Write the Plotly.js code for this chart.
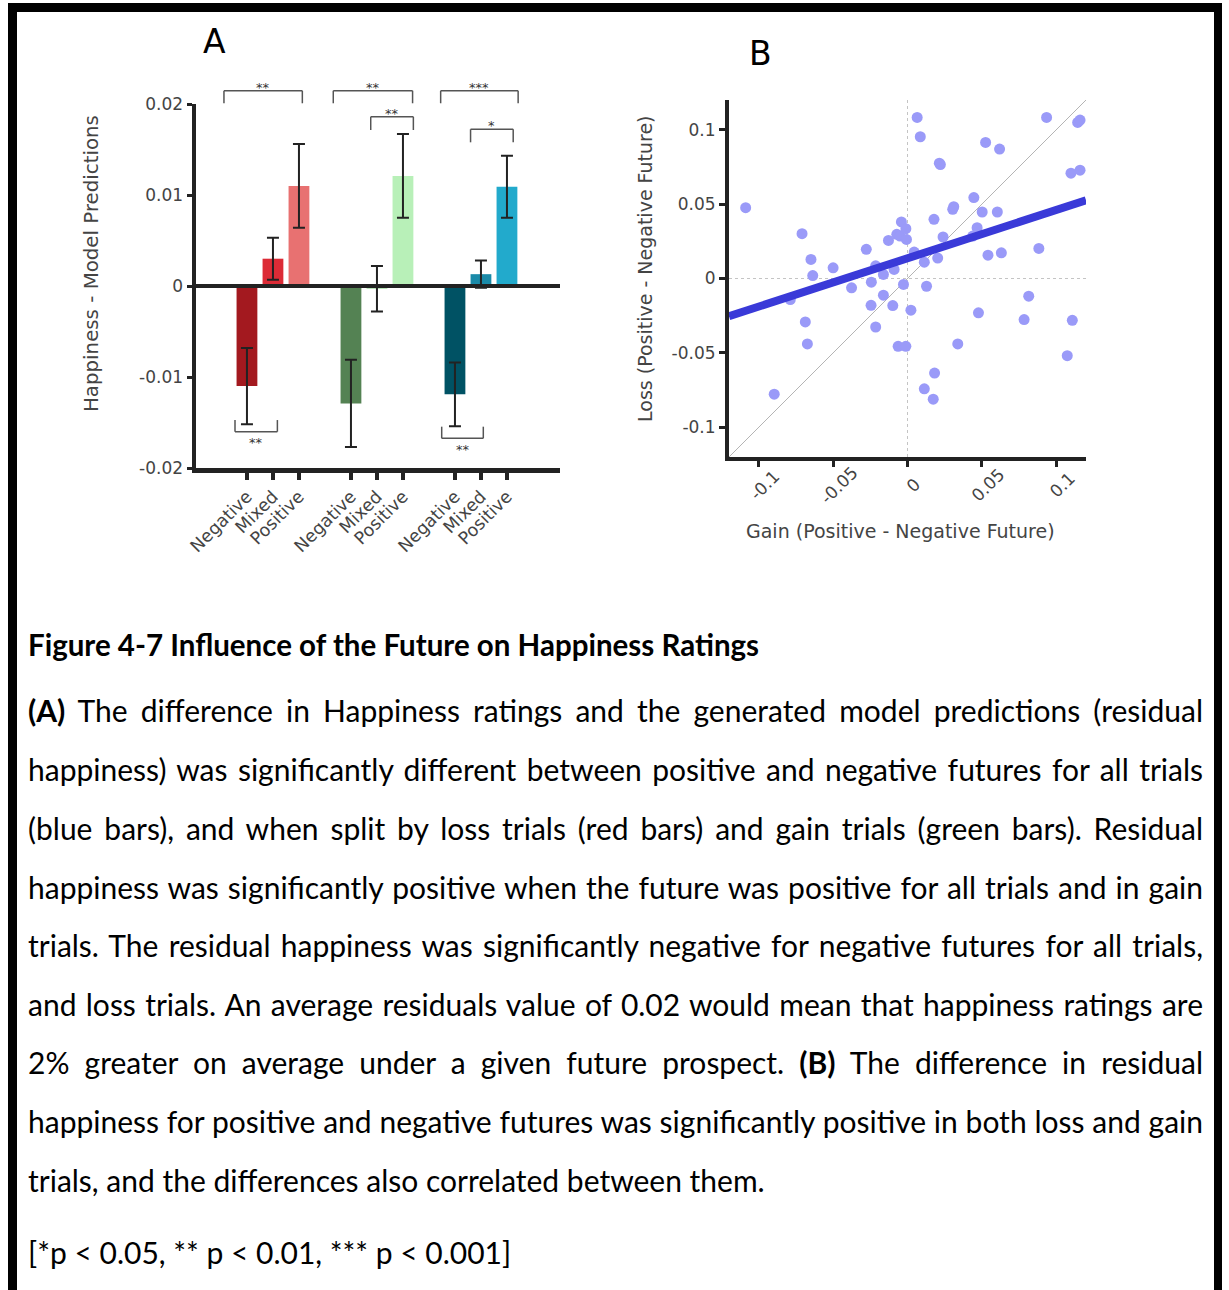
<!DOCTYPE html>
<html>
<head>
<meta charset="utf-8">
<script src="https://cdn.plot.ly/plotly-3.0.1.min.js"></script>
<style>
  html, body { margin: 0; padding: 0; background: #fff; }
  body { width: 1229px; height: 1290px; position: relative; overflow: hidden; }
  #frame {
    position: absolute; left: 8px; top: 3px; width: 1214px; height: 1400px;
    box-sizing: border-box;
    border-left: 9px solid #000; border-right: 8px solid #000; border-top: 9px solid #000;
  }
  #chart { position: absolute; left: 0; top: 0; width: 1229px; height: 600px; }
  .cap {
    position: absolute; left: 28px; width: 1175px; height: 40px; line-height: 40px;
    font-family: Lato, "Open Sans", sans-serif; font-size: 30px; color: #000;
  }
  .j { text-align: justify; text-align-last: justify; word-spacing: -3px; }
</style>
</head>
<body>
<div id="frame"></div>
<div id="chart"></div>

<div class="cap" style="top:625px;font-weight:bold;font-size:29.5px;">Figure 4-7 Influence of the Future on Happiness Ratings</div>
<div class="cap j" style="top:690px;"><b>(A)</b> The difference in Happiness ratings and the generated model predictions (residual</div>
<div class="cap j" style="top:749px;">happiness) was significantly different between positive and negative futures for all trials</div>
<div class="cap j" style="top:808px;">(blue bars), and when split by loss trials (red bars) and gain trials (green bars). Residual</div>
<div class="cap j" style="top:867px;">happiness was significantly positive when the future was positive for all trials and in gain</div>
<div class="cap j" style="top:925px;">trials. The residual happiness was significantly negative for negative futures for all trials,</div>
<div class="cap j" style="top:984px;">and loss trials. An average residuals value of 0.02 would mean that happiness ratings are</div>
<div class="cap j" style="top:1042px;">2% greater on average under a given future prospect. <b>(B)</b> The difference in residual</div>
<div class="cap j" style="top:1101px;">happiness for positive and negative futures was significantly positive in both loss and gain</div>
<div class="cap" style="top:1160px;">trials, and the differences also correlated between them.</div>
<div class="cap" style="top:1232px;">[*p &lt; 0.05, ** p &lt; 0.01, *** p &lt; 0.001]</div>

<script>
// ---- Panel A: residual happiness by future type ----
const categories = ['Negative', 'Mixed', 'Positive'];
const lossMeans = [-0.011, 0.003, 0.011];
const lossSem   = [0.0042, 0.0023, 0.0046];
const gainMeans = [-0.0129, -0.0003, 0.0121];
const gainSem   = [0.0048, 0.0025, 0.0046];
const allMeans  = [-0.0119, 0.0013, 0.0109];
const allSem    = [0.0035, 0.0015, 0.0034];
const groupOffsets = [0, 4, 8];   // loss, gain, all trials

const lossColors = ['#a3191f', '#dc2b36', '#e87171'];
const gainColors = ['#548253', '#9fdc9f', '#b8f0b8'];
const allColors  = ['#005264', '#1a8aa8', '#22aacc'];

const yTickVals = [-0.02, -0.01, 0, 0.01, 0.02];
const yTickText = ['-0.02', '-0.01', '0', '0.01', '0.02'];

// significance brackets: [x0, x1, top value, leg value, label, label value]
const brackets = [
  [-0.885, 2.13, 0.02146, 0.02008, '**', 0.02209],
  [3.32, 6.37, 0.02146, 0.02008, '**', 0.02209],
  [7.45, 10.43, 0.02146, 0.02008, '***', 0.02209],
  [4.76, 6.40, 0.01860, 0.01714, '**', 0.01926],
  [8.60, 10.24, 0.01722, 0.01579, '*', 0.01795],
  [-0.46, 1.17, -0.01601, -0.01473, '**', -0.01692],
  [7.49, 9.09, -0.01674, -0.01546, '**', -0.01766]
];

// ---- Panel B: positive minus negative future, gain vs loss trials ----
const gainDiff = [
  -0.1088, -0.0896, -0.0788, -0.0709, -0.0649, -0.0637, -0.0687, -0.0673, -0.0500, -0.0376,
  -0.0277, -0.0243, -0.0245, -0.0214, -0.0214, -0.0162, -0.0162, -0.0128, -0.0099, -0.0090,
  -0.0072, -0.0041, -0.0050, -0.0011, -0.0007, -0.0027, -0.0063, -0.0011, 0.0023, 0.0045,
  0.0065, 0.0086, 0.0113, 0.0128, 0.0113, 0.0173, 0.0182, 0.0178, 0.0203, 0.0221,
  0.0214, 0.0239, 0.0304, 0.0311, 0.0338, 0.0446, 0.0468, 0.0439, 0.0502, 0.0477,
  0.0525, 0.0541, 0.0604, 0.0619, 0.0631, 0.0784, 0.0815, 0.0883, 0.0935, 0.1074,
  0.1108, 0.1099, 0.1160, 0.1144, 0.1160
];
const lossDiff = [
  0.0476, -0.0778, -0.0142, 0.0301, 0.0128, 0.0020, -0.0292, -0.0440, 0.0072, -0.0063,
  0.0196, -0.0025, -0.0180, -0.0326, 0.0085, 0.0027, -0.0112, 0.0256, -0.0182, 0.0061,
  0.0297, 0.0380, 0.0285, 0.0335, 0.0263, -0.0040, -0.0456, -0.0456, -0.0213, 0.0178,
  0.1083, 0.0953, 0.0110, -0.0052, -0.0742, -0.0811, -0.0636, 0.0398, 0.0137, 0.0766,
  0.0775, 0.0279, 0.0465, 0.0483, -0.0440, 0.0544, 0.0342, 0.0285, 0.0447, -0.0231,
  0.0915, 0.0157, 0.0447, 0.0870, 0.0173, -0.0276, -0.0119, 0.0202, 0.1083, -0.0519,
  -0.0281, 0.0708, 0.0728, 0.1049, 0.1065
];
const fitX = [-0.12, 0.12];
const fitY = [-0.0254, 0.0526];
const bTickVals = [-0.1, -0.05, 0, 0.05, 0.1];
const bTickText = ['-0.1', '-0.05', '0', '0.05', '0.1'];

const W = 1229, H = 600;
const FONT = 'DejaVu Sans, Verdana, sans-serif';
const AXIS_GREY = '#444';
const INK = '#222';

// position of every bar on the numeric x axis of panel A
function positions(offset) { return categories.map((_, i) => offset + i); }

function barTrace(means, sem, colors, offset) {
  return {
    type: 'bar', x: positions(offset), y: means, width: 0.8,
    marker: { color: colors, line: { width: 0 } },
    error_y: { type: 'data', array: sem, visible: true, color: INK, thickness: 2, width: 6 },
    xaxis: 'x', yaxis: 'y', hoverinfo: 'skip'
  };
}

const traces = [
  barTrace(lossMeans, lossSem, lossColors, groupOffsets[0]),
  barTrace(gainMeans, gainSem, gainColors, groupOffsets[1]),
  barTrace(allMeans, allSem, allColors, groupOffsets[2]),
  {
    type: 'scatter', mode: 'markers', x: gainDiff, y: lossDiff,
    marker: { size: 11, color: '#9a9af8', line: { width: 0 } },
    xaxis: 'x2', yaxis: 'y2', hoverinfo: 'skip'
  },
  {
    type: 'scatter', mode: 'lines', x: fitX, y: fitY,
    line: { color: '#3a3ad8', width: 8 },
    xaxis: 'x2', yaxis: 'y2', hoverinfo: 'skip'
  }
];

// y value of panel A -> fraction of its y domain
const yA0 = yTickVals[0], yA1 = yTickVals[yTickVals.length - 1];
function yd(v) { return (v - yA0) / (yA1 - yA0); }

const shapes = [];
const annotations = [];

// thick zero line across panel A, drawn over the bars
shapes.push({ type: 'line', xref: 'x domain', yref: 'y', x0: 0, x1: 1, y0: 0, y1: 0,
              line: { color: INK, width: 4 }, layer: 'above' });

brackets.forEach(([x0, x1, yTop, yLeg, label, yLab]) => {
  const ln = { color: '#555', width: 1.5 };
  shapes.push({ type: 'line', xref: 'x', yref: 'y domain', x0: x0, x1: x1, y0: yd(yTop), y1: yd(yTop), line: ln });
  shapes.push({ type: 'line', xref: 'x', yref: 'y domain', x0: x0, x1: x0, y0: yd(yTop), y1: yd(yLeg), line: ln });
  shapes.push({ type: 'line', xref: 'x', yref: 'y domain', x0: x1, x1: x1, y0: yd(yTop), y1: yd(yLeg), line: ln });
  annotations.push({ text: label, xref: 'x', yref: 'y domain', x: (x0 + x1) / 2, y: yd(yLab),
                     showarrow: false, xanchor: 'center', yanchor: 'middle', yshift: -3,
                     font: { family: FONT, size: 13, color: '#333' } });
});

// panel B guides: identity diagonal and dotted zero lines
shapes.push({ type: 'line', xref: 'x2', yref: 'y2', x0: -0.12, y0: -0.12, x1: 0.12, y1: 0.12,
              line: { color: '#b4b4b4', width: 1 }, layer: 'below' });
shapes.push({ type: 'line', xref: 'x2', yref: 'y2', x0: 0, x1: 0, y0: -0.12, y1: 0.12,
              line: { color: '#c4c4c4', width: 1, dash: 'dot' }, layer: 'below' });
shapes.push({ type: 'line', xref: 'x2', yref: 'y2', x0: -0.12, x1: 0.12, y0: 0, y1: 0,
              line: { color: '#c4c4c4', width: 1, dash: 'dot' }, layer: 'below' });

// panel B x tick labels, rotated about their centres
bTickVals.forEach((v, i) => {
  annotations.push({ text: bTickText[i], xref: 'x2', yref: 'paper', x: v, y: (H - 485) / H,
                     showarrow: false, textangle: -45, xanchor: 'center', yanchor: 'middle', xshift: 6,
                     font: { family: FONT, size: 17, color: AXIS_GREY } });
});

// axis titles and panel letters
annotations.push(
  { text: 'Happiness - Model Predictions', xref: 'paper', yref: 'paper', x: 92 / W, y: (H - 264) / H,
    textangle: -90, showarrow: false, xanchor: 'center', yanchor: 'middle',
    font: { family: FONT, size: 19.8, color: AXIS_GREY } },
  { text: 'Loss (Positive - Negative Future)', xref: 'paper', yref: 'paper', x: 645 / W, y: (H - 269) / H,
    textangle: -90, showarrow: false, xanchor: 'center', yanchor: 'middle',
    font: { family: FONT, size: 19, color: AXIS_GREY } },
  { text: 'Gain (Positive - Negative Future)', xref: 'paper', yref: 'paper', x: 900 / W, y: (H - 531) / H,
    showarrow: false, xanchor: 'center', yanchor: 'middle',
    font: { family: FONT, size: 19, color: AXIS_GREY } },
  { text: 'A', xref: 'paper', yref: 'paper', x: 214 / W, y: (H - 41) / H,
    showarrow: false, xanchor: 'center', yanchor: 'middle',
    font: { family: FONT, size: 33, color: '#000' } },
  { text: 'B', xref: 'paper', yref: 'paper', x: 760 / W, y: (H - 53) / H,
    showarrow: false, xanchor: 'center', yanchor: 'middle',
    font: { family: FONT, size: 33, color: '#000' } }
);

const layout = {
  width: W, height: H,
  margin: { l: 0, r: 0, t: 0, b: 0, pad: 0 },
  paper_bgcolor: 'rgba(0,0,0,0)', plot_bgcolor: 'rgba(0,0,0,0)',
  showlegend: false, barmode: 'overlay',
  font: { family: FONT, color: AXIS_GREY },
  xaxis: {
    domain: [196 / W, 560 / W], range: [-1.96, 12.04],
    tickmode: 'array',
    tickvals: groupOffsets.flatMap(o => positions(o)),
    ticktext: groupOffsets.flatMap(() => categories),
    tickangle: -45, ticks: 'outside', ticklen: 7, tickwidth: 4, tickcolor: INK,
    showline: true, linewidth: 4.5, linecolor: INK,
    showgrid: false, zeroline: false,
    tickfont: { family: FONT, size: 17.5, color: AXIS_GREY }
  },
  yaxis: {
    domain: [1 - 468 / H, 1 - 104 / H], range: [yA0, yA1],
    tickmode: 'array', tickvals: yTickVals, ticktext: yTickText,
    ticks: 'outside', ticklen: 5, tickwidth: 3, tickcolor: INK,
    showline: true, linewidth: 4.5, linecolor: INK,
    showgrid: false, zeroline: false,
    tickfont: { family: FONT, size: 17, color: AXIS_GREY }
  },
  xaxis2: {
    anchor: 'y2', domain: [729 / W, 1086 / W], range: [-0.12, 0.12],
    tickmode: 'array', tickvals: bTickVals, showticklabels: false,
    ticks: 'outside', ticklen: 6, tickwidth: 3, tickcolor: INK,
    showline: true, linewidth: 4, linecolor: INK,
    showgrid: false, zeroline: false
  },
  yaxis2: {
    anchor: 'x2', domain: [1 - 457 / H, 1 - 100 / H], range: [-0.12, 0.12],
    tickmode: 'array', tickvals: bTickVals, ticktext: bTickText,
    ticks: 'outside', ticklen: 6, tickwidth: 3, tickcolor: INK,
    showline: true, linewidth: 4, linecolor: INK,
    showgrid: false, zeroline: false,
    tickfont: { family: FONT, size: 17, color: AXIS_GREY }
  },
  shapes: shapes,
  annotations: annotations
};

Plotly.newPlot('chart', traces, layout, { staticPlot: true, displayModeBar: false });
</script>
</body>
</html>
